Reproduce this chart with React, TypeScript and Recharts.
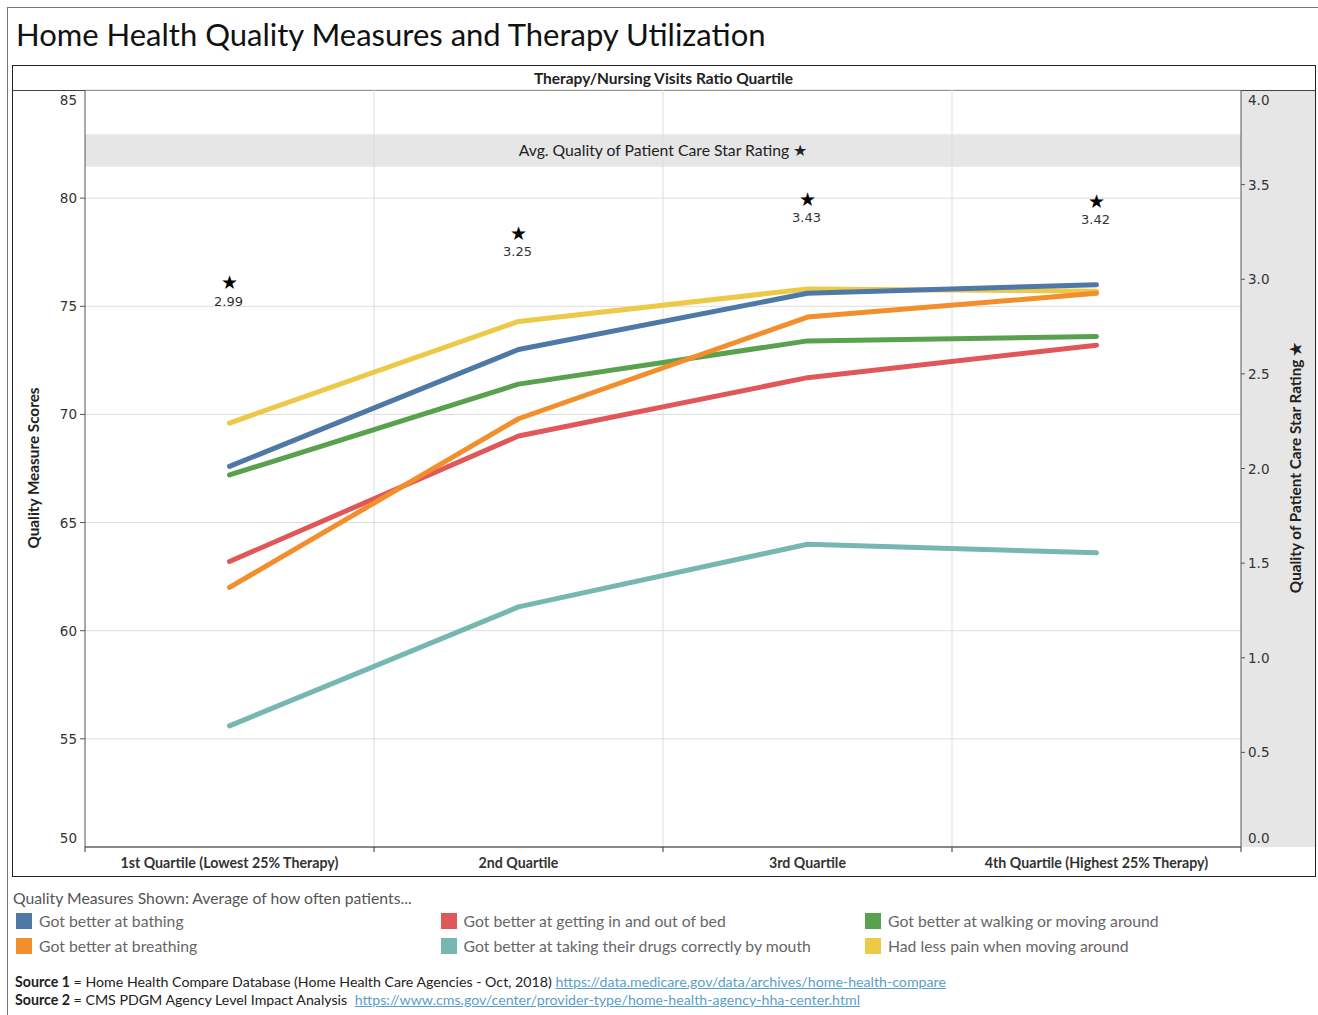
import React from 'react';
import { ComposedChart, Line, XAxis, YAxis, CartesianGrid, ReferenceLine, ReferenceArea } from 'recharts';

const quartiles = [
  '1st Quartile (Lowest 25% Therapy)',
  '2nd Quartile',
  '3rd Quartile',
  '4th Quartile (Highest 25% Therapy)',
];
const bathing = [67.6, 73.0, 75.6, 76.0];
const breathing = [62.0, 69.8, 74.5, 75.6];
const bed = [63.2, 69.0, 71.7, 73.2];
const drugs = [55.6, 61.1, 64.0, 63.6];
const walking = [67.2, 71.4, 73.4, 73.6];
const pain = [69.6, 74.3, 75.8, 75.7];
const starRating = [2.99, 3.25, 3.43, 3.42];
const leftTicks = [50, 55, 60, 65, 70, 75, 80, 85];
const rightTicks = [0, 0.5, 1, 1.5, 2, 2.5, 3, 3.5, 4];
const starBand = [81.45, 82.95];

const series = [
  { key: 'drugs', name: 'Got better at taking their drugs correctly by mouth', color: '#76b7b2', values: drugs },
  { key: 'bed', name: 'Got better at getting in and out of bed', color: '#e15759', values: bed },
  { key: 'walking', name: 'Got better at walking or moving around', color: '#59a14f', values: walking },
  { key: 'pain', name: 'Had less pain when moving around', color: '#edc948', values: pain },
  { key: 'breathing', name: 'Got better at breathing', color: '#f28e2b', values: breathing },
  { key: 'bathing', name: 'Got better at bathing', color: '#4e79a7', values: bathing },
];

const legendColumns = [
  ['bathing', 'breathing'],
  ['bed', 'drugs'],
  ['walking', 'pain'],
];

const rows = quartiles.map((q, i) => {
  const r: any = { quartile: q, star: starRating[i] };
  series.forEach((s) => (r[s.key] = s.values[i]));
  return r;
});

const numFont = 'DejaVu Sans, Verdana, sans-serif';
const txtFont = 'Lato, "Open Sans", sans-serif';

const LeftTick = (props: any) => {
  const { x, y, payload } = props;
  const v = payload.value;
  const dy = v === 85 ? 10 : v === 50 ? -9 : 0;
  return (
    <g>
      {v !== 85 && v !== 50 && <line x1={x + 3} x2={x + 8} y1={y} y2={y} stroke="#555" />}
      <text x={x} y={y + dy} textAnchor="end" dominantBaseline="central" fontSize={13.5} fill="#333" fontFamily={numFont}>
        {v}
      </text>
    </g>
  );
};

const RightTick = (props: any) => {
  const { x, y, payload } = props;
  const v = payload.value;
  const dy = v === 4 ? 10 : v === 0 ? -9 : 0;
  return (
    <g>
      {v !== 4 && v !== 0 && <line x1={x - 8} x2={x - 4} y1={y} y2={y} stroke="#555" />}
      <text x={x - 1} y={y + dy} textAnchor="start" dominantBaseline="central" fontSize={13.5} fill="#333" fontFamily={numFont}>
        {v.toFixed(1)}
      </text>
    </g>
  );
};

const XTick = (props: any) => {
  const { x, y, payload, index } = props;
  const off = payload.offset || 0;
  const top = y - 8;
  return (
    <g>
      <line x1={x - off} x2={x - off} y1={top} y2={top + 5} stroke="#333" />
      {index === quartiles.length - 1 && <line x1={x + off} x2={x + off} y1={top} y2={top + 5} stroke="#333" />}
      <text x={x} y={top + 15} textAnchor="middle" dominantBaseline="central" fontSize={14.2} fontWeight={700} fill="#333" fontFamily={txtFont}>
        {payload.value}
      </text>
    </g>
  );
};

const StarDot = (props: any) => {
  const { cx, cy, value, index } = props;
  return (
    <g key={'star' + index}>
      <text x={cx} y={cy + 1} textAnchor="middle" dominantBaseline="central" fontSize={19} fill="#000" fontFamily={numFont}>
        ★
      </text>
      <text x={cx - 1} y={cy + 20} textAnchor="middle" dominantBaseline="central" fontSize={13} fill="#333" fontFamily={numFont}>
        {Number(value).toFixed(2)}
      </text>
    </g>
  );
};

const abs = (s: React.CSSProperties): React.CSSProperties => ({ position: 'absolute', ...s });

export default function App() {
  const byKey: any = {};
  series.forEach((s) => (byKey[s.key] = s));
  return (
    <div style={abs({ left: 0, top: 0, width: 1318, height: 1015, background: '#fff', overflow: 'hidden', fontFamily: txtFont })}>
      {/* outer frame */}
      <div style={abs({ left: 7, top: 7, width: 1320, height: 1020, borderLeft: '1px solid #777', borderTop: '1px solid #777' })} />
      {/* title */}
      <div style={abs({ left: 16, top: 15, fontSize: 31, color: '#111', whiteSpace: 'nowrap', fontFamily: txtFont })}>
        Home Health Quality Measures and Therapy Utilization
      </div>
      {/* right panel background */}
      <div style={abs({ left: 1241, top: 90, width: 74, height: 757, background: '#e6e6e6' })} />
      {/* box */}
      <div style={abs({ left: 12, top: 65, width: 1304, height: 812, border: '1px solid #222', boxSizing: 'border-box' })} />
      <div style={abs({ left: 12, top: 90, width: 1303, height: 1, background: '#444' })} />
      <div style={abs({ left: 12, top: 66, width: 1303, height: 24, lineHeight: '24px', textAlign: 'center', fontSize: 15.5, fontWeight: 700, color: '#222' })}>
        Therapy/Nursing Visits Ratio Quartile
      </div>
      <div style={abs({ left: 0, top: 0 })}>
        <ComposedChart width={1318} height={1015} data={rows} margin={{ top: 90, right: 3, bottom: 139, left: 12 }}>
          <CartesianGrid yAxisId="left" vertical={false} stroke="#dddddd" />
          {quartiles.slice(1).map((q) => (
            <ReferenceLine key={q} yAxisId="left" x={q} position="start" stroke="#dddddd" />
          ))}
          <ReferenceArea
            yAxisId="left"
            y1={starBand[0]}
            y2={starBand[1]}
            fill="#e6e6e6"
            fillOpacity={1}
            stroke="none"
            label={{ value: 'Avg. Quality of Patient Care Star Rating ★', position: 'center', fill: '#222', fontSize: 15.75, fontFamily: txtFont }}
          />
          <XAxis dataKey="quartile" scale="band" height={29} tick={<XTick />} tickLine={false} axisLine={{ stroke: '#222' }} interval={0} />
          <YAxis yAxisId="left" domain={[50, 85]} ticks={leftTicks} width={73} tick={<LeftTick />} tickLine={false} axisLine={{ stroke: '#555' }} interval={0} />
          <YAxis yAxisId="right" orientation="right" domain={[0, 4]} ticks={rightTicks} width={74} tick={<RightTick />} tickLine={false} axisLine={{ stroke: '#555' }} interval={0} />
          {series.map((s) => (
            <Line
              key={s.key}
              yAxisId="left"
              dataKey={s.key}
              name={s.name}
              stroke={s.color}
              strokeWidth={5}
              strokeLinecap="round"
              strokeLinejoin="round"
              dot={false}
              activeDot={false}
              isAnimationActive={false}
            />
          ))}
          <Line yAxisId="right" dataKey="star" stroke="none" dot={<StarDot />} activeDot={false} isAnimationActive={false} />
        </ComposedChart>
      </div>
      {/* axis titles */}
      <div style={abs({ left: 33, top: 468, transform: 'translate(-50%, -50%) rotate(-90deg)', fontSize: 15.3, fontWeight: 700, color: '#222', whiteSpace: 'nowrap' })}>
        Quality Measure Scores
      </div>
      <div style={abs({ left: 1295, top: 468, transform: 'translate(-50%, -50%) rotate(-90deg)', fontSize: 15.3, fontWeight: 700, color: '#222', whiteSpace: 'nowrap' })}>
        Quality of Patient Care Star Rating ★
      </div>
      {/* legend */}
      <div style={abs({ left: 13, top: 888, fontSize: 15.75, color: '#555', whiteSpace: 'nowrap' })}>
        Quality Measures Shown: Average of how often patients...
      </div>
      {legendColumns.map((col, ci) =>
        col.map((k, ri) => (
          <div key={k} style={abs({ left: 16 + ci * 424.5, top: 912 + ri * 25, height: 17, display: 'flex', alignItems: 'center', whiteSpace: 'nowrap' })}>
            <div style={{ width: 16, height: 16, background: byKey[k].color, marginRight: 7, flexShrink: 0 }} />
            <span style={{ fontSize: 15.75, color: '#666' }}>{byKey[k].name}</span>
          </div>
        ))
      )}
      {/* sources */}
      <div style={abs({ left: 15, top: 973, fontSize: 14.2, color: '#222', whiteSpace: 'nowrap' })}>
        <b>Source 1</b> = Home Health Compare Database (Home Health Care Agencies - Oct, 2018){' '}
        <span style={{ color: '#5a9fc8', textDecoration: 'underline' }}>https://data.medicare.gov/data/archives/home-health-compare</span>
      </div>
      <div style={abs({ left: 15, top: 991, fontSize: 14.2, color: '#222', whiteSpace: 'nowrap' })}>
        <b>Source 2</b> = CMS PDGM Agency Level Impact Analysis{'  '}
        <span style={{ color: '#5a9fc8', textDecoration: 'underline', marginLeft: 4 }}>https://www.cms.gov/center/provider-type/home-health-agency-hha-center.html</span>
      </div>
    </div>
  );
}
